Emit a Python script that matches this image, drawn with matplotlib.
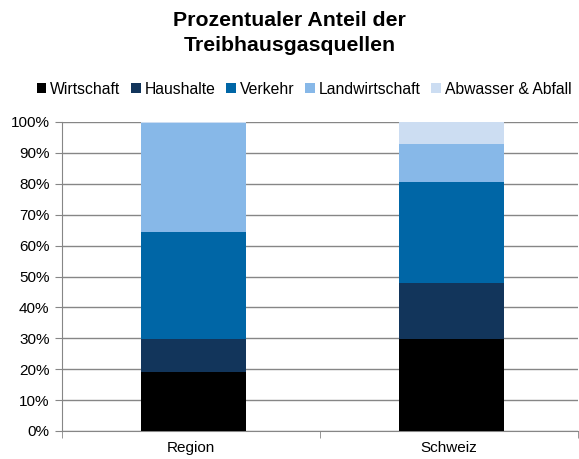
import numpy as np
import matplotlib
matplotlib.use("Agg")
import matplotlib.pyplot as plt
from matplotlib.ticker import FuncFormatter

plt.rcParams['font.family'] = ['Liberation Sans', 'DejaVu Sans']

# Daten
categories = ["Region", "Schweiz"]
sources = ["Wirtschaft", "Haushalte", "Verkehr", "Landwirtschaft", "Abwasser & Abfall"]
wirtschaft = [19.1, 29.8]
haushalte = [10.7, 18.1]
verkehr = [34.6, 32.7]
landwirtschaft = [35.3, 12.3]
abwasser = [0.3, 7.1]
colors = ["#000000", "#12355B", "#0066A6", "#87B8E8", "#CCDDF2"]

series = [wirtschaft, haushalte, verkehr, landwirtschaft, abwasser]

fig = plt.figure(figsize=(5.79, 4.59), dpi=100)
ax = fig.add_axes([62 / 579, 1 - 431 / 459, 516 / 579, 309 / 459])

x = np.arange(len(categories))
bottom = np.zeros(len(categories))
for name, vals, col in zip(sources, series, colors):
    ax.bar(x + 0.01, vals, width=0.405, bottom=bottom, color=col, label=name, zorder=3)
    bottom += np.array(vals)

ax.set_xlim(-0.5, 1.5)
ax.set_ylim(0, 100)
ax.set_yticks(np.arange(0, 101, 10))
ax.yaxis.set_major_formatter(FuncFormatter(lambda v, p: f"{int(v)}%"))
ax.grid(axis='y', color='#868686', linewidth=1, zorder=0)
ax.set_xticks(x)
ax.set_xticklabels(categories)
ax.set_xticks([-0.5, 0.5, 1.5], minor=True)
ax.tick_params(axis='x', which='major', length=0, pad=7, labelsize=11)
ax.tick_params(axis='x', which='minor', length=5, color='#868686')
ax.tick_params(axis='y', length=5, color='#868686', labelsize=11, pad=4)

for s in ['top', 'right']:
    ax.spines[s].set_visible(False)
for s in ['left', 'bottom']:
    ax.spines[s].set_color('#868686')

fig.suptitle("Prozentualer Anteil der\nTreibhausgasquellen", fontsize=15.3,
             fontweight='bold', y=0.975, linespacing=1.4)

fig.legend(loc='center', bbox_to_anchor=(0.525, 1 - 89 / 459), ncol=5, frameon=False,
           fontsize=11.3, handlelength=0.6, handleheight=0.6, handletextpad=0.25,
           columnspacing=0.7, borderaxespad=0)

fig.savefig("out.png", dpi=100)
